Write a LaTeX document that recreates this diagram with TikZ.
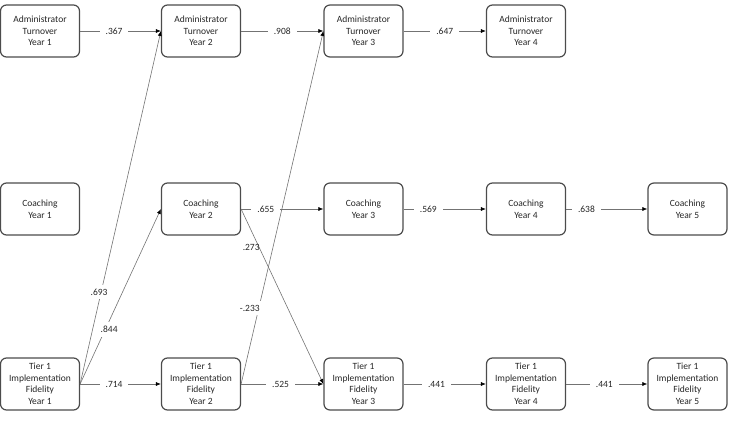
\documentclass[tikz,border=0pt]{standalone}
\usepackage{fontspec}
\setmainfont{Carlito}
\usetikzlibrary{arrows.meta}
\begin{document}
\begin{tikzpicture}[x=1pt,y=-1pt,
  box/.style={draw=black!70,line width=1.2pt,rounded corners=6pt,minimum width=79pt,minimum height=52pt,align=center,font=\fontsize{9.5}{11.5}\selectfont,text=black!85,inner sep=1pt},
  path/.style={draw=black!55,line width=0.6pt,-{Latex[length=5pt,width=4pt,color=black]}},
  lab/.style={fill=white,inner xsep=6pt,inner ysep=3pt,font=\fontsize{9.5}{11}\selectfont,text=black!85},
  dlab/.style={lab,inner xsep=2pt,inner ysep=4pt}]
\useasboundingbox (0,0) rectangle (729,423);
% columns
\def\xa{40}\def\xb{201}\def\xc{363.5}\def\xd{526}\def\xe{687.5}
\def\ya{31}\def\yb{209}\def\yc{384}
\node[box] (A1) at (\xa,\ya) {Administrator\\Turnover\\Year 1};
\node[box] (A2) at (\xb,\ya) {Administrator\\Turnover\\Year 2};
\node[box] (A3) at (\xc,\ya) {Administrator\\Turnover\\Year 3};
\node[box] (A4) at (\xd,\ya) {Administrator\\Turnover\\Year 4};
\node[box] (C1) at (\xa,\yb) {Coaching\\Year 1};
\node[box] (C2) at (\xb,\yb) {Coaching\\Year 2};
\node[box] (C3) at (\xc,\yb) {Coaching\\Year 3};
\node[box] (C4) at (\xd,\yb) {Coaching\\Year 4};
\node[box] (C5) at (\xe,\yb) {Coaching\\Year 5};
\node[box] (T1) at (\xa,\yc) {Tier 1\\Implementation\\Fidelity\\Year 1};
\node[box] (T2) at (\xb,\yc) {Tier 1\\Implementation\\Fidelity\\Year 2};
\node[box] (T3) at (\xc,\yc) {Tier 1\\Implementation\\Fidelity\\Year 3};
\node[box] (T4) at (\xd,\yc) {Tier 1\\Implementation\\Fidelity\\Year 4};
\node[box] (T5) at (\xe,\yc) {Tier 1\\Implementation\\Fidelity\\Year 5};
% horizontal paths
\draw[path] (A1) -- node[lab,pos=0.42] (l1) {.367} (A2);
\draw[path] (A2) -- node[lab,pos=0.5] (l2) {.908} (A3);
\draw[path] (A3) -- node[lab,pos=0.5] (l3) {.647} (A4);
\draw[path] (C2) -- node[lab,pos=0.3] (l4) {.655} (C3);
\draw[path] (C3) -- node[lab,pos=0.3] (l5) {.569} (C4);
\draw[path] (C4) -- node[lab,pos=0.25] (l6) {.638} (C5);
\draw[path] (T1) -- node[lab,pos=0.42] (l7) {.714} (T2);
\draw[path] (T2) -- node[lab,pos=0.48] (l8) {.525} (T3);
\draw[path] (T3) -- node[lab,pos=0.4] (l9) {.441} (T4);
\draw[path] (T4) -- node[lab,pos=0.47] (l10) {.441} (T5);
% diagonal paths
\draw[path] (T1.east) -- node[dlab,pos=0.26,xshift=-2pt] (l11) {.693} (A2.west);
\draw[path] (T1.east) -- node[dlab,pos=0.31,xshift=4pt] (l12) {.844} (C2.west);
\draw[path] (T2.east) -- node[dlab,pos=0.215,xshift=-9pt] (l13) {-.233} (A3.west);
\draw[path] (C2.east) -- node[lab,pos=0.22,xshift=-8pt,fill=none] (l14) {.273} (T3.west);
\end{tikzpicture}
\end{document}
